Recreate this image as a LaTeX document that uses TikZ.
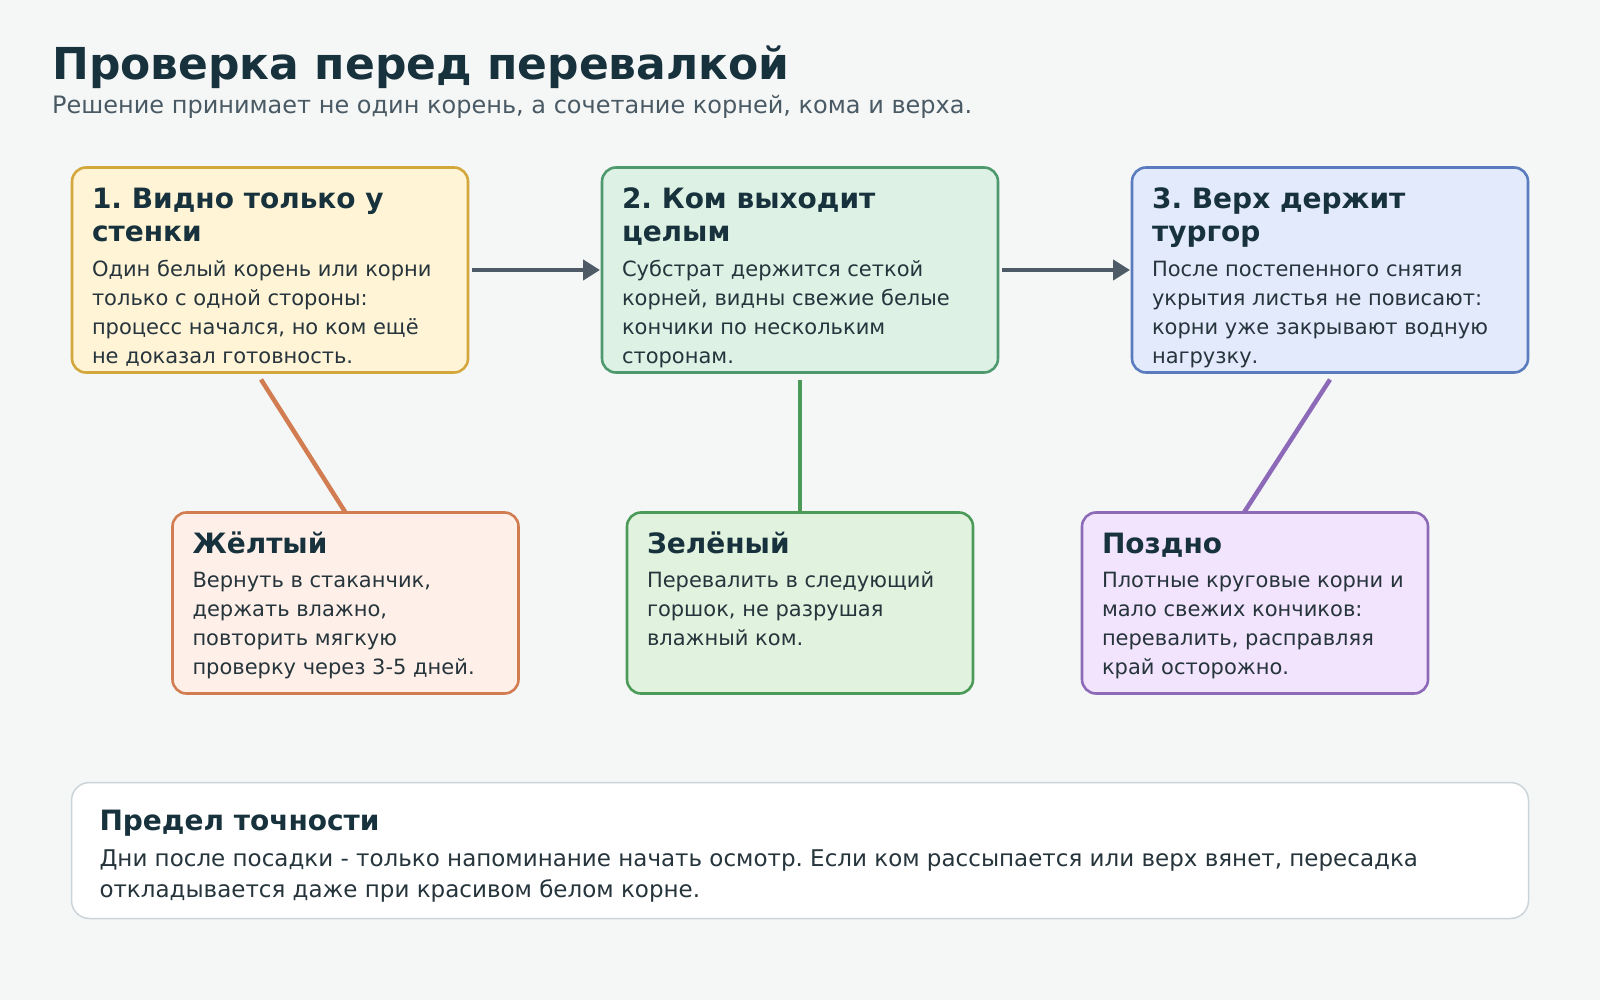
\documentclass[tikz,border=0pt]{standalone}
\usepackage{fontspec}
\setmainfont{DejaVu Sans}
\usepackage{xcolor}
\usetikzlibrary{arrows.meta, positioning}
\definecolor{PageBg}{HTML}{F5F7F7}
\definecolor{InkDark}{HTML}{17323C}
\definecolor{InkSoft}{HTML}{4A5A64}
\definecolor{InkBody}{HTML}{26343C}
\definecolor{FlowGray}{HTML}{4E5A66}
\definecolor{WallLine}{HTML}{D4A73C}
\definecolor{WallFill}{HTML}{FFF4D6}
\definecolor{BallLine}{HTML}{4E9A6E}
\definecolor{BallFill}{HTML}{DDF1E5}
\definecolor{TopLine}{HTML}{5A7BBD}
\definecolor{TopFill}{HTML}{E2EAFC}
\definecolor{WaitLine}{HTML}{D27C52}
\definecolor{WaitFill}{HTML}{FEF0E8}
\definecolor{GoLine}{HTML}{4C9A58}
\definecolor{GoFill}{HTML}{E1F3DF}
\definecolor{LateLine}{HTML}{8D6AB8}
\definecolor{LateFill}{HTML}{F2E4FC}
\definecolor{NoteLine}{HTML}{CBD4D8}
\frenchspacing
\newcommand{\wordgaps}{\spaceskip=0pt \xspaceskip=0pt }
\newcommand{\cardhead}[1]{{\wordgaps\fontsize{28}{33}\selectfont\bfseries\color{InkDark}#1\par}\vspace{5.5pt}}
\newcommand{\cardbody}[1]{{\wordgaps\fontsize{21}{29}\selectfont\color{InkBody}#1\par}}

\begin{document}
\begin{tikzpicture}[
    x=1pt, y=-1pt,
    card/.style={rectangle, rounded corners=14pt, line width=2.6pt, outer sep=0pt, inner xsep=20pt, inner ysep=0pt, text width=356pt, align=left, text height=41.5pt, text depth=163.5pt},
    result/.style={card, text width=306pt, text height=40.5pt, text depth=140.5pt},
    note/.style={rectangle, rounded corners=18pt, line width=1.5pt, draw=NoteLine, fill=white, outer sep=0pt, inner xsep=28pt, inner ysep=0pt, text width=1401pt, align=left, text height=47.5pt, text depth=88.5pt},
    flow/.style={-{Triangle[length=17pt, width=20pt]}, line width=4.5pt, draw=FlowGray, shorten <=4pt, shorten >=2pt},
    link/.style={line width=4.5pt}
]

\fill[PageBg] (0,0) rectangle (1600,1000);

\node[anchor=base west, inner sep=0pt, text=InkDark, font=\fontsize{44}{52}\selectfont\bfseries] (title) at (52,80) {Проверка перед перевалкой};
\node[anchor=base west, inner sep=0pt, text=InkSoft, font=\fontsize{24}{30}\selectfont] (subtitle) at (52,114) {Решение принимает не один корень, а сочетание корней, кома и верха.};

\node[card, draw=WallLine, fill=WallFill] (s1) at (270,270) {\cardhead{1. Видно только у\\стенки}\cardbody{Один белый корень или корни\\только с одной стороны:\\процесс начался, но ком ещё\\не доказал готовность.}};
\node[card, draw=BallLine, fill=BallFill, right=134pt of s1] (s2) {\cardhead{2. Ком выходит\\целым}\cardbody{Субстрат держится сеткой\\корней, видны свежие белые\\кончики по нескольким\\сторонам.}};
\node[card, draw=TopLine, fill=TopFill, right=134pt of s2] (s3) {\cardhead{3. Верх держит\\тургор}\cardbody{После постепенного снятия\\укрытия листья не повисают:\\корни уже закрывают водную\\нагрузку.}};

\node[result, draw=WaitLine, fill=WaitFill, below=140pt of s1, xshift=75.5pt] (r1) {\cardhead{Жёлтый}\cardbody{Вернуть в стаканчик,\\держать влажно,\\повторить мягкую\\проверку через 3-5 дней.}};
\node[result, draw=GoLine, fill=GoFill, below=140pt of s2] (r2) {\cardhead{Зелёный}\cardbody{Перевалить в следующий\\горшок, не разрушая\\влажный ком.}};
\node[result, draw=LateLine, fill=LateFill, below=140pt of s3, xshift=-75pt] (r3) {\cardhead{Поздно}\cardbody{Плотные круговые корни и\\мало свежих кончиков:\\перевалить, расправляя\\край осторожно.}};

\node[note, below=89pt of r2] (limit) {{\wordgaps\fontsize{28}{31}\selectfont\bfseries\color{InkDark}Предел точности\par}\vspace{5pt}{\wordgaps\fontsize{23}{31}\selectfont\color{InkBody}Дни после посадки - только напоминание начать осмотр. Если ком рассыпается или верх вянет, пересадка\\откладывается даже при красивом белом корне.\par}};

\foreach \a/\b in {s1/s2,s2/s3}{\draw[flow] (\a) -- (\b);}

\draw[link, WaitLine] ([xshift=-9pt, yshift=-7pt]s1.south) -- (r1.north);
\draw[link, GoLine] ([yshift=-7pt]s2.south) -- (r2.north);
\draw[link, LateLine] ([yshift=-7pt]s3.south) -- ([xshift=-11pt]r3.north);

\end{tikzpicture}
\end{document}
